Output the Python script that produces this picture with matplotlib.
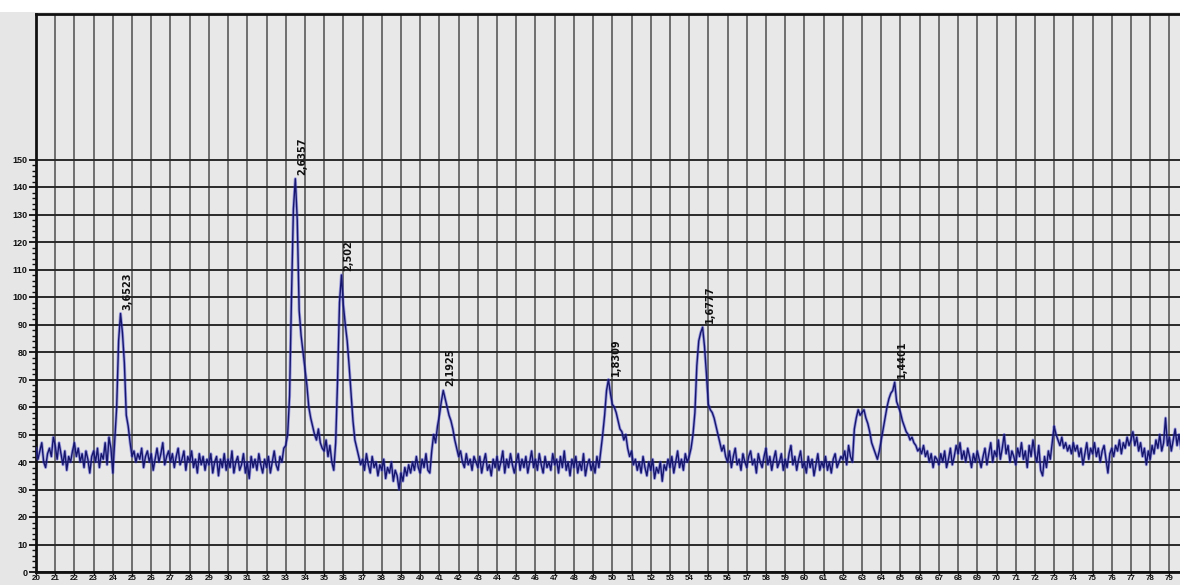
import numpy as np
import matplotlib
matplotlib.use("Agg")
import matplotlib.pyplot as plt
from matplotlib.patches import Rectangle
from matplotlib.ticker import FixedLocator

# Diffractogram: intensity sampled every 0.1 deg 2-theta, starting at 20.0
start_2theta = 20.0
step_2theta = 0.1
intensity = [
    45, 41, 44, 47, 40, 38, 43, 45, 42, 49,   # 20
    46, 41, 47, 43, 39, 44, 37, 42, 40, 44,   # 21
    47, 42, 45, 40, 43, 38, 44, 41, 36, 42,   # 22
    44, 40, 45, 38, 43, 41, 47, 39, 49, 45,   # 23
    36, 48, 60, 84, 94, 87, 76, 57, 53, 47,   # 24
    42, 44, 40, 43, 41, 45, 38, 42, 44, 40,   # 25
    43, 37, 41, 45, 40, 43, 47, 39, 42, 44,   # 26
    40, 43, 38, 42, 45, 39, 41, 44, 37, 42,   # 27
    40, 44, 38, 41, 36, 43, 39, 42, 37, 41,   # 28
    39, 43, 36, 40, 42, 35, 41, 38, 43, 37,   # 29
    41, 38, 44, 36, 40, 42, 37, 39, 43, 36,   # 30
    40, 34, 42, 38, 41, 37, 43, 39, 36, 41,   # 31
    38, 42, 36, 40, 44, 39, 37, 42, 40, 45,   # 32
    46, 50, 64, 100, 132, 143, 128, 95, 86, 80,  # 33
    74, 68, 60, 56, 53, 50, 48, 52, 47, 45,   # 34
    44, 48, 42, 46, 40, 37, 47, 70, 98, 108,  # 35
    97, 90, 84, 75, 65, 55, 48, 45, 42, 39,   # 36
    41, 37, 43, 39, 36, 42, 38, 40, 35, 39,   # 37
    37, 41, 34, 38, 36, 40, 33, 37, 35, 30,   # 38
    36, 33, 38, 35, 39, 36, 40, 37, 42, 38,   # 39
    36, 41, 38, 43, 37, 36, 44, 50, 47, 53,   # 40
    57, 62, 66, 63, 60, 57, 55, 52, 48, 45,   # 41
    42, 44, 40, 38, 43, 39, 41, 37, 42, 40,   # 42
    38, 42, 36, 40, 43, 37, 39, 35, 41, 38,   # 43
    42, 37, 40, 44, 36, 41, 38, 43, 39, 36,   # 44
    40, 43, 37, 41, 38, 42, 36, 40, 44, 38,   # 45
    41, 37, 43, 39, 36, 42, 38, 40, 37, 43,   # 46
    39, 41, 36, 42, 38, 44, 37, 40, 35, 41,   # 47
    38, 42, 36, 40, 37, 43, 35, 39, 41, 37,   # 48
    40, 36, 42, 38, 44, 50, 57, 66, 70, 65,   # 49
    61, 60, 58, 55, 52, 51, 48, 50, 45, 42,   # 50
    44, 39, 41, 37, 40, 36, 42, 38, 35, 40,   # 51
    37, 41, 34, 38, 36, 40, 33, 39, 37, 41,   # 52
    38, 42, 36, 40, 44, 38, 41, 37, 43, 40,   # 53
    42, 45, 50, 58, 75, 84, 87, 89, 82, 72,   # 54
    61, 59, 58, 56, 53, 50, 47, 44, 46, 42,   # 55
    40, 44, 38, 42, 45, 39, 41, 37, 43, 40,   # 56
    38, 42, 44, 39, 41, 36, 43, 40, 38, 42,   # 57
    45, 39, 42, 37, 41, 44, 38, 40, 43, 37,   # 58
    41, 38, 43, 46, 39, 42, 37, 41, 44, 38,   # 59
    40, 36, 42, 38, 41, 35, 39, 43, 37, 40,   # 60
    38, 42, 37, 40, 36, 41, 43, 38, 40, 42,   # 61
    41, 44, 39, 46, 42, 40, 52, 56, 59, 57,   # 62
    58, 59, 56, 54, 51, 47, 45, 43, 41, 44,   # 63
    48, 52, 56, 60, 63, 65, 66, 69, 62, 60,   # 64
    58, 55, 53, 51, 50, 48, 49, 47, 46, 44,   # 65
    45, 43, 46, 42, 44, 40, 43, 38, 42, 41,   # 66
    39, 43, 40, 44, 38, 41, 45, 39, 42, 46,   # 67
    43, 47, 41, 44, 40, 45, 42, 38, 43, 40,   # 68
    44, 41, 38, 42, 45, 39, 43, 47, 40, 44,   # 69
    42, 48, 41, 45, 50, 43, 46, 40, 44, 42,   # 70
    39, 45, 42, 47, 41, 44, 38, 46, 42, 48,   # 71
    43, 40, 46, 37, 35, 42, 38, 44, 41, 47,   # 72
    53, 50, 48, 46, 49, 45, 47, 44, 46, 43,   # 73
    47, 44, 46, 42, 45, 39, 43, 47, 41, 45,   # 74
    43, 47, 42, 45, 40, 44, 46, 41, 36, 43,   # 75
    45, 42, 46, 44, 48, 43, 47, 45, 49, 46,   # 76
    48, 51, 46, 49, 44, 47, 42, 45, 39, 44,   # 77
    41, 46, 43, 48, 45, 50, 44, 47, 56, 46,   # 78
    49, 44, 48, 52, 46, 50, 45,               # 79
]

# Indexed reflections: position (2-theta) and d-spacing label
peak_2theta = [24.4, 33.5, 35.9, 41.2, 49.8, 54.7, 64.7]
peak_dspacing = ["3,6523", "2,6357", "2,502", "2,1925", "1,8309", "1,6777", "1,4401"]

x_ticks = list(range(20, 80))
y_ticks = list(range(0, 151, 10))
y_minor_ticks = list(range(0, 151, 2))

two_theta = start_2theta + step_2theta * np.arange(len(intensity))
counts = np.array(intensity, dtype=float)

W, H = 1180, 585
fig = plt.figure(figsize=(W / 100, H / 100), dpi=100)
fig.patch.set_facecolor("#e6e6e6")
# white strip along the top edge of the sheet
fig.patches.append(Rectangle((0, 1 - 12 / H), 1, 12 / H, transform=fig.transFigure,
                             facecolor="white", edgecolor="none", zorder=0))

left_px, bottom_px, top_px = 36, 572, 14
px_per_deg = 19.21
px_per_count = 2.75
ax = fig.add_axes([left_px / W, (H - bottom_px) / H, (W - left_px) / W,
                   (bottom_px - top_px) / H])
ax.set_facecolor("#e8e8e8")
ax.set_xlim(20, 20 + (W - left_px) / px_per_deg)
ax.set_ylim(0, (bottom_px - top_px) / px_per_count)

ax.set_xticks(x_ticks)
ax.set_yticks(y_ticks)
ax.yaxis.set_minor_locator(FixedLocator(y_minor_ticks))
ax.grid(True, axis="y", which="major", color="#2a2a2a", linewidth=1.4)
ax.grid(True, axis="x", which="major", color="#5a5a5a", linewidth=1.2)
ax.set_axisbelow(True)

tick_font = dict(family=["Liberation Sans", "DejaVu Sans"], size=6.5, weight="bold")
ax.set_xticklabels([str(v) for v in x_ticks], family=["Liberation Sans", "DejaVu Sans"],
                   size=5.8, weight="bold")
ax.set_yticklabels([str(v) for v in y_ticks], **tick_font)
ax.tick_params(axis="y", which="major", length=5, width=1.3, pad=1, colors="#111111")
ax.tick_params(axis="y", which="minor", length=3, width=1.0, colors="#111111")
ax.tick_params(axis="x", which="major", length=2, width=1.0, pad=0, colors="#111111")

for side in ("left", "top", "bottom"):
    ax.spines[side].set_linewidth(2.0)
    ax.spines[side].set_color("#111111")
ax.spines["right"].set_visible(False)

# pattern trace: soft blue halo under a dark navy core
ax.plot(two_theta, counts, color="#3a3ad0", linewidth=2.2, alpha=0.45, zorder=3)
ax.plot(two_theta, counts, color="#16166e", linewidth=1.0, zorder=4)

label_font = dict(family=["Liberation Sans Narrow", "DejaVu Sans"], size=7, weight="bold")
for pos, lab in zip(peak_2theta, peak_dspacing):
    idx = int(round((pos - start_2theta) / step_2theta))
    ax.annotate(lab, xy=(two_theta[idx], counts[idx]), xytext=(7, 4),
                textcoords="offset pixels", rotation=90, ha="center", va="bottom",
                color="#111111", zorder=5, **label_font)

fig.savefig("out.png", dpi=100, facecolor=fig.get_facecolor())
